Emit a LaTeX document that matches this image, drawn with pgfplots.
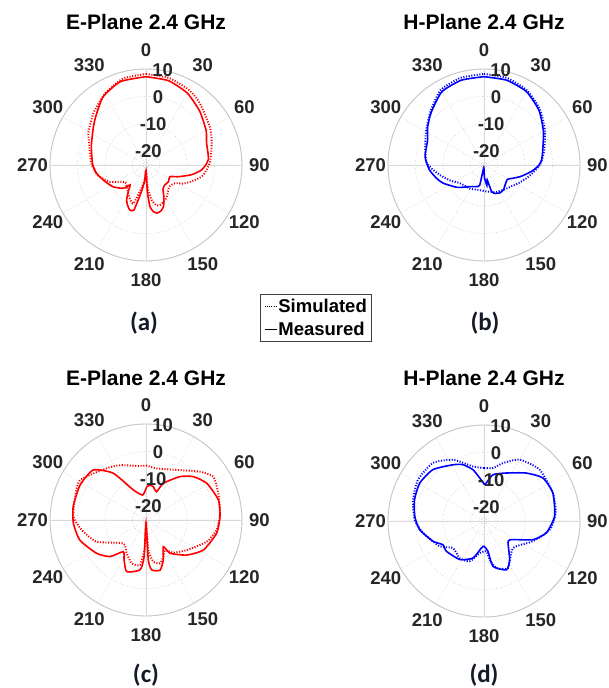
\documentclass[border=0pt]{standalone}
\usepackage{fontspec}
\setmainfont{Liberation Sans}
\newfontfamily\carlito{Carlito}
\usepackage{pgfplots}
\pgfplotsset{compat=1.18}
\usepackage{pgfplotstable}
\usepgfplotslibrary{polar}
\definecolor{tickgray}{HTML}{262626}
\definecolor{capcol}{HTML}{141A26}

% ---- (a) E-plane ----
\pgfplotstableread{
t r
0 7.2
15 6.8
30 5.2
45 2.7
60 0.3
70 -1.5
80 -2.0
85 -2.2
90 -3.2
95 -4.6
100 -7.0
103 -8.6
110 -12.5
116 -15.3
127 -14.8
137 -15.0
145 -14.2
150 -12.0
157 -8.6
162 -7.4
167 -7.0
171 -7.8
174.5 -9.7
177 -15
180 -23
185 -19
190 -15
195 -8.0
200 -7.6
205 -9.0
209 -10.4
214 -13.5
218.7 -15.7
224 -13.2
236 -10.7
248 -8.9
260 -6.8
270 -5.6
279 -5.0
290 -3.8
306 -1.3
315 0.7
328 4.4
343 6.8
360 7.2
}\Am
\pgfplotstableread{
t r
0 8.2
15 7.8
30 6.5
41 4.9
60 2.0
72 0.2
88 -1.7
100 -3.8
105 -5.5
111 -7.8
117 -10
122 -12.5
133 -13.4
145 -11.5
151 -10.5
161 -9.5
166 -10
171 -12.1
176 -17
180 -23
185 -20
190 -17
198 -10.3
204 -11
210 -12.3
222 -14.5
231 -15.2
245 -10.5
258 -7.0
270 -5.2
282 -4.1
292 -2.6
300 -0.8
315 2.0
330 5.0
345 7.6
360 8.2
}\As
% ---- (b) H-plane ----
\pgfplotstableread{
t r
0 7.2
15 7.0
30 5.9
45 3.3
60 0.0
75 -2.8
85 -3.9
90 -4.9
96 -6.9
102 -9.2
108 -11.2
115 -13.5
121.5 -15
133.6 -14.4
142 -13.5
150 -13.3
158 -13.8
164 -14.9
168 -19.5
172 -17.5
178 -20.5
185 -24
192 -17.5
199 -16.7
213 -15.6
230 -12.3
246 -8.7
254 -7.1
265 -5.0
278 -3.3
294 -2.5
304 -0.2
315 2.2
330 5.8
345 7.0
360 7.2
}\Bm
\pgfplotstableread{
t r
0 8.2
15 7.8
30 6.4
45 3.8
60 0.6
75 -2.2
85 -3.8
92 -5.2
100 -7.2
107 -8.7
118 -10.8
130 -12.6
142 -13.5
155 -14.2
168 -15
180 -15.5
193 -15.7
210 -15
233 -14.0
245 -11.5
257 -8.6
265 -6.2
272 -4.1
285 -2.8
300 -0.6
315 2.6
330 6.6
345 7.9
360 8.2
}\Bs
% ---- (c) E-plane ----
\pgfplotstableread{
t r
1.1 -12.9
6.5 -12.2
12.4 -12.6
20.6 -14.0
25.3 -10.2
38.1 -4.9
47.5 -1.6
58.9 0.9
74.5 2.4
87.4 2.0
100.7 1.2
117.6 -1.4
130.7 -5.4
144 -10.0
147 -13.4
156.6 -9.1
164.4 -6.0
173.5 -6.7
176.7 -10.4
180 -24
183 -11.6
186.8 -6.7
200.5 -4.9
208.8 -8.4
215.6 -10.8
224.5 -6.3
235.9 -3.3
253 0.2
267.4 1.5
280.4 2.0
297.9 2.2
313.5 1.5
325 -4.2
337.1 -13.1
352.4 -15.8
361.1 -12.9
}\Cm
\pgfplotstableread{
t r
0 -5.1
11.7 -5.8
34.2 -3.0
48.2 1.4
57.2 4.2
69.8 3.1
85 2.1
98 1.0
109.7 -1.5
126.4 -6.5
140 -9.5
147.7 -12.0
154.7 -10.2
162 -8.4
170 -9.6
175.5 -14.0
180 -24
182 -15.3
187.6 -8.5
198.3 -8.4
210 -10.9
224.2 -13.1
246.3 -5.3
261.2 -1.3
272.6 1.5
288.2 2.2
301.2 3.1
322.7 -1.3
334.7 -2.9
353.7 -5.2
360 -5.1
}\Cs
% ---- (d) H-plane ----
\pgfplotstableread{
t r
1 -11.8
3.5 -11.1
11 -7.8
25 -5.7
41.4 -1.7
53.9 1.6
67.9 2.1
86.2 0.8
100.9 -1.9
110.9 -5.9
122.8 -12.5
130.3 -13.5
146.4 -8.1
155.3 -5.4
168.8 -8.1
172.5 -13.8
180 -15.8
185.6 -15.1
196.6 -10.9
212.2 -8.4
231.2 -7.4
240 -7.7
248.3 -5.0
262.3 -1.3
273.9 0.3
287.1 1.5
300.6 2.2
315.2 1.4
331.2 -1.6
339.6 -3.1
347.9 -5.9
354.2 -9.2
361 -11.8
}\Dm
\pgfplotstableread{
t r
0 -5.7
9.6 -5.4
18.1 -2.8
30.2 0.9
47.3 2.6
67.9 2.1
83.6 1.3
97.5 -0.8
112.5 -5.7
132.9 -10.5
152.9 -5.8
165.3 -7.3
171.7 -10.8
175.6 -13.9
187.7 -13.2
199.6 -9.4
213.3 -8.8
229 -10.0
240.3 -6.4
258.9 -2.4
271.1 0.3
286.7 2.0
302 3.4
318.7 3.2
333.2 0.0
348.6 -4.7
360 -5.7
}\Ds

\newcommand{\ticfont}{\fontsize{18.5}{20}\selectfont\bfseries}
\newcommand{\titfont}{\fontsize{21}{24}\selectfont\bfseries}
\newcommand{\capfont}{\carlito\fontsize{25}{28}\selectfont\bfseries}

\pgfplotsset{
  mypolar/.style={
    scale only axis, width=192pt, height=192pt,
    anchor=center,
    xmin=0, xmax=360, ymin=0, ymax=35,
    xtick={0,30,...,330},
    xticklabels={90,60,30,0,330,300,270,240,210,180,150,120},
    ytick={5,15,25,35}, yticklabels={},
    grid=major,
    major grid style={gray!45, line width=0.6pt, dotted},
    axis line style={gray!45, line width=0.9pt},
    xticklabel style={font=\ticfont, text=tickgray, anchor=center,
      xshift={17.5pt*cos(\tick)}, yshift={19pt*sin(\tick)}},
    tick style={draw=none},
    extra x ticks={0,90,180,270}, extra x tick labels={},
    extra x tick style={grid=major, major grid style={gray!30, solid, line width=0.6pt}},
    clip=false,
  },
  meas/.style={line width=1.6pt, smooth, tension=0.35},
  sim/.style={line width=1.9pt, dash pattern=on 1.1pt off 1.6pt, smooth, tension=0.35},
}
\newcommand{\rlabels}{%
  \node[font=\ticfont, text=tickgray] at (axis cs:80,5) {-20};
  \node[font=\ticfont, text=tickgray] at (axis cs:80,15) {-10};
  \node[font=\ticfont, text=tickgray] at (axis cs:80,25) {0};
  \node[font=\ticfont, text=tickgray] at (axis cs:80,35) {10};
}

\begin{document}
\begin{tikzpicture}
\path[use as bounding box] (0,0) rectangle (609pt,688pt);

% (a)
\begin{polaraxis}[mypolar, at={(146pt,523pt)},
  legend style={at={(axis description cs:1.094,-0.172)}, anchor=north west,
    draw=black!75, line width=1.1pt, font=\fontsize{18.5}{20}\selectfont\bfseries,
    inner sep=3.5pt, row sep=6pt, fill=white,
    nodes={inner sep=1pt}},
  legend cell align=left,
  legend image code/.code={\draw[#1, line width=1.3pt] (0pt,0pt) -- (12pt,0pt);}]
\addplot[sim, red, forget plot] table[x expr={mod(450-\thisrow{t},360)}, y expr={\thisrow{r}+25}] {\As};
\addplot[meas, red, forget plot] table[x expr={mod(450-\thisrow{t},360)}, y expr={\thisrow{r}+25}] {\Am};
\addlegendimage{black, dash pattern=on 1pt off 1.2pt}
\addlegendimage{black, solid}
\legend{Simulated, Measured}
\rlabels
\end{polaraxis}

% (b)
\begin{polaraxis}[mypolar, at={(484pt,523pt)}]
\addplot[sim, blue] table[x expr={mod(450-\thisrow{t},360)}, y expr={\thisrow{r}+25}] {\Bs};
\addplot[meas, blue] table[x expr={mod(450-\thisrow{t},360)}, y expr={\thisrow{r}+25}] {\Bm};
\rlabels
\end{polaraxis}

% (c)
\begin{polaraxis}[mypolar, at={(146pt,168pt)}]
\addplot[sim, red] table[x expr={mod(450-\thisrow{t},360)}, y expr={\thisrow{r}+25}] {\Cs};
\addplot[meas, red] table[x expr={mod(450-\thisrow{t},360)}, y expr={\thisrow{r}+25}] {\Cm};
\rlabels
\end{polaraxis}

% (d)
\begin{polaraxis}[mypolar, at={(484pt,167pt)}]
\addplot[sim, blue] table[x expr={mod(450-\thisrow{t},360)}, y expr={\thisrow{r}+25}] {\Ds};
\addplot[meas, blue] table[x expr={mod(450-\thisrow{t},360)}, y expr={\thisrow{r}+25}] {\Dm};
\rlabels
\end{polaraxis}

\node[font=\titfont] at (146pt,666pt) {E-Plane 2.4 GHz};
\node[font=\titfont] at (484pt,666pt) {H-Plane 2.4 GHz};
\node[font=\titfont] at (146pt,310pt) {E-Plane 2.4 GHz};
\node[font=\titfont] at (484pt,310pt) {H-Plane 2.4 GHz};

\node[font=\capfont, text=capcol] at (144pt,365pt) {(a)};
\node[font=\capfont, text=capcol] at (485pt,365pt) {(b)};
\node[font=\capfont, text=capcol] at (146pt,13pt) {(c)};
\node[font=\capfont, text=capcol] at (484pt,13pt) {(d)};
\end{tikzpicture}
\end{document}
